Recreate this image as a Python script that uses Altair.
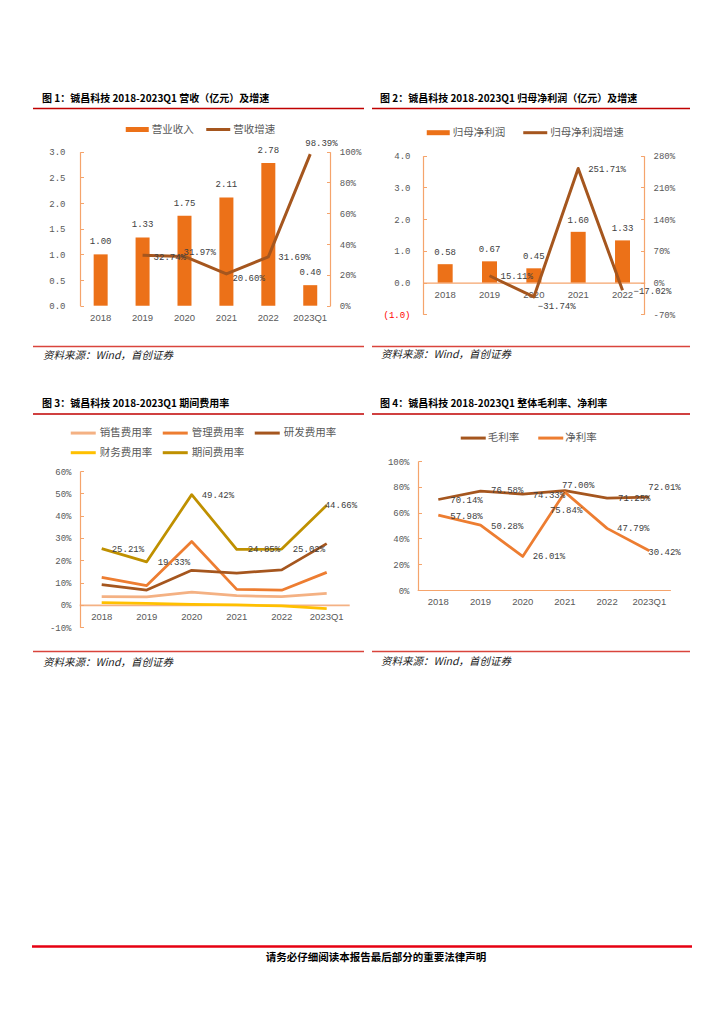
import altair as alt
import pandas as pd

# ---------------- data ----------------
years6 = ["2018", "2019", "2020", "2021", "2022", "2023Q1"]
years5 = ["2018", "2019", "2020", "2021", "2022"]

revenue = [1.00, 1.33, 1.75, 2.11, 2.78, 0.40]
revenue_growth = [None, 32.74, 31.97, 20.60, 31.69, 98.39]
profit = [0.58, 0.67, 0.45, 1.60, 1.33]
profit_growth = [None, 15.11, -31.74, 251.71, -17.02]

expense_names = ["销售费用率", "管理费用率", "研发费用率", "财务费用率", "期间费用率"]
sales_rate = [3.7, 3.6, 5.8, 4.2, 3.7, 5.2]
admin_rate = [12.4, 8.7, 28.4, 7.0, 6.6, 14.6]
rd_rate = [9.1, 6.7, 15.5, 14.3, 15.7, 27.5]
fin_rate = [1.0, 0.7, 0.3, 0.0, -0.4, -1.6]
period_rate = [25.21, 19.33, 49.42, 24.85, 25.02, 44.66]

margin_names = ["毛利率", "净利率"]
gross_margin = [70.14, 76.58, 74.33, 77.00, 71.25, 72.01]
net_margin = [57.98, 50.28, 26.01, 75.84, 47.79, 30.42]

legend1 = ["营业收入", "营收增速"]
legend2 = ["归母净利润", "归母净利润增速"]

titles = [
    "图 1：铖昌科技 2018-2023Q1 营收（亿元）及增速",
    "图 2：铖昌科技 2018-2023Q1 归母净利润（亿元）及增速",
    "图 3：铖昌科技 2018-2023Q1 期间费用率",
    "图 4：铖昌科技 2018-2023Q1 整体毛利率、净利率",
]
source_text = "资料来源：Wind，首创证券"
footer_text = "请务必仔细阅读本报告最后部分的重要法律声明"

y1_ticks = [0, 0.5, 1.0, 1.5, 2.0, 2.5, 3.0]
y1r_ticks = [0, 20, 40, 60, 80, 100]
y2_ticks = [-1, 0, 1, 2, 3, 4]
y2r_ticks = [-70, 0, 70, 140, 210, 280]
y3_ticks = [-10, 0, 10, 20, 30, 40, 50, 60]
y4_ticks = [0, 20, 40, 60, 80, 100]

df1 = pd.DataFrame({"year": years6, "rev": revenue, "g": revenue_growth})
df2 = pd.DataFrame({"year": years5, "p": profit, "g": profit_growth})
exp_series = [sales_rate, admin_rate, rd_rate, fin_rate, period_rate]
df3 = pd.DataFrame(
    [{"year": y, "name": n, "v": s[i]} for n, s in zip(expense_names, exp_series) for i, y in enumerate(years6)]
)
mar_series = [gross_margin, net_margin]
df4 = pd.DataFrame(
    [{"year": y, "name": n, "v": s[i]} for n, s in zip(margin_names, mar_series) for i, y in enumerate(years6)]
)

# ---------------- style ----------------
W, H = 708, 1008
CJK = "Noto Sans CJK SC"
MONO = "Liberation Mono"
SANS = "Liberation Sans"
GRAY = "#595959"
LABEL = "#404040"
AXIS_OR = "#F5A46C"
ORANGE = "#EC7118"
BROWN = "#A5561E"
exp_colors = ["#F4B183", "#ED7D31", "#A5561E", "#FFC000", "#BF9000"]
mar_colors = ["#A5561E", "#ED7D31"]
RED_DARK = "#C00000"
RED_SRC = "#D9443C"
RED_FOOT = "#E60012"


def V(p):
    return p - 8


one = pd.DataFrame({"k": [0]})


def band(domain, p0, p1):
    return alt.Scale(type="band", domain=domain, range=[V(p0), V(p1)], paddingInner=0, paddingOuter=0)


def lin(d0, d1, pb, pt, zero=False):
    return alt.Scale(type="linear", domain=[d0, d1], range=[V(pb), V(pt)], nice=False, zero=zero)


def x_axis(y_page, domain=True, dcolor=AXIS_OR, dwidth=1.2):
    return alt.Axis(orient="bottom", offset=V(y_page) - H, title=None, domain=domain,
                    domainColor=dcolor, domainWidth=dwidth, ticks=False, tickSize=0,
                    labelPadding=6.5, labelFont=SANS, labelFontSize=9.5, labelColor=GRAY,
                    labelAngle=0, grid=False, labelOverlap=False)


def y_axis(side, x_page, values, pad, expr=None, fmt=None, color=GRAY):
    off = -V(x_page) if side == "left" else V(x_page) - W
    kw = dict(orient=side, offset=off, values=values, title=None, domain=True,
              domainColor=AXIS_OR, domainWidth=1.2, ticks=False, tickSize=0,
              labelPadding=pad, labelFont=MONO, labelFontSize=9, labelColor=color,
              grid=False, labelOverlap=False)
    if expr:
        kw["labelExpr"] = expr
    if fmt:
        kw["format"] = fmt
    return alt.Axis(**kw)


def tick_axis(main_side, x_page, values):
    if main_side == "left":
        orient, off = "right", V(x_page) - W
    else:
        orient, off = "left", -V(x_page)
    return alt.Axis(orient=orient, offset=off, values=values, title=None, domain=False,
                    labels=False, ticks=True, tickSize=3.5, tickColor=AXIS_OR, tickWidth=1,
                    grid=False)


def legend(x, yc, path, stroke_w, label_offset, columns=None, colpad=10, rowpad=2):
    kw = dict(orient="none", legendX=V(x), legendY=V(yc) - 5.25, direction="horizontal",
              title=None, symbolType=path, symbolSize=16, symbolStrokeWidth=stroke_w,
              labelFont=CJK, labelFontSize=10.5, labelColor=GRAY, labelOffset=label_offset,
              padding=0, columnPadding=colpad, rowPadding=rowpad, offset=0)
    if columns:
        kw["columns"] = columns
    return alt.Legend(**kw)


BAR_PATH = "M-5.75,-1.25H5.75V1.25H-5.75Z"
LINE_PATH = "M-6,0H6"
LINE_PATH25 = "M-6.25,0H6.25"


def pct_labels(df, yf, xs, ys, place, yaxis=None):
    groups = {}
    for cat, val in zip(df["year"], df[yf]):
        if pd.isna(val):
            continue
        groups.setdefault(place.get(cat, (10, 0)), []).append(cat)
    out = []
    first = True
    for (dx, dy), cats in groups.items():
        ch = (
            alt.Chart(df)
            .transform_filter(alt.FieldOneOfPredicate(field="year", oneOf=cats))
            .transform_calculate(lab=f"format(datum.{yf}, '.2f') + '%'")
            .mark_text(align="left", baseline="middle", dx=dx, dy=dy, font=MONO,
                       fontSize=9, color=LABEL)
            .encode(
                x=alt.X("year:N", scale=xs, axis=None),
                y=alt.Y(f"{yf}:Q", scale=ys, axis=yaxis if first else None),
                text="lab:N",
            )
        )
        first = False
        out.append(ch)
    return out


layers = []

# ---------------- chart 1 ----------------
xs1 = band(years6, 79.7, 331.2)
ys1 = lin(0, 3, 305.7, 151.7, zero=True)
ys1r = lin(0, 100, 305.7, 151.7)
layers.append(
    alt.Chart(df1).transform_calculate(s=f"'{legend1[0]}'").mark_bar(size=14).encode(
        x=alt.X("year:N", scale=xs1, axis=x_axis(305.7, domain=False)),
        y=alt.Y("rev:Q", scale=ys1, axis=y_axis("left", 80, y1_ticks, 15, fmt=".1f")),
        color=alt.Color("s:N", scale=alt.Scale(domain=[legend1[0]], range=[ORANGE]),
                        legend=legend(132, 129.5, BAR_PATH, 0, 9.25)),
    )
)
layers.append(
    alt.Chart(df1).mark_text(align="center", baseline="middle", dy=-13, font=MONO,
                             fontSize=9, color=LABEL).encode(
        x=alt.X("year:N", scale=xs1, axis=None),
        y=alt.Y("rev:Q", scale=ys1, axis=tick_axis("left", 80, y1_ticks)),
        text=alt.Text("rev:Q", format=".2f"),
    )
)
layers.append(
    alt.Chart(df1).transform_filter("isValid(datum.g)").transform_calculate(s=f"'{legend1[1]}'")
    .mark_line(strokeWidth=3, strokeJoin="round").encode(
        x=alt.X("year:N", scale=xs1, axis=None),
        y=alt.Y("g:Q", scale=ys1r, axis=y_axis("right", 330, y1r_ticks, 9.3, expr="datum.value + '%'")),
        color=alt.Color("s:N", scale=alt.Scale(domain=[legend1[1]], range=[BROWN]),
                        legend=legend(213, 129.5, LINE_PATH, 3, 9.75)),
    )
)
layers += pct_labels(df1, "g", xs1, ys1r,
                     {"2019": (11, 1.5), "2020": (-1, -4), "2021": (6, 4), "2022": (10, 0), "2023Q1": (-5, -11)},
                     yaxis=tick_axis("right", 330, y1r_ticks))

# ---------------- chart 2 ----------------
xs2 = band(years5, 423.0, 644.7)
ys2 = lin(-1, 4, 314.3, 155.7, zero=True)
ys2r = lin(-70, 280, 314.3, 155.7)
zero2 = 314.3 + (0 - (-1)) / 5 * (155.7 - 314.3)
layers.append(
    alt.Chart(df2).transform_calculate(s=f"'{legend2[0]}'").mark_bar(size=15).encode(
        x=alt.X("year:N", scale=xs2, axis=x_axis(zero2)),
        y=alt.Y("p:Q", scale=ys2, axis=y_axis(
            "left", 423, y2_ticks, 13,
            expr="datum.value < 0 ? '(' + format(-datum.value, '.1f') + ')' : format(datum.value, '.1f')",
            color={"condition": {"test": "datum.value < 0", "value": "#FF0000"}, "value": GRAY})),
        color=alt.Color("s:N", scale=alt.Scale(domain=[legend2[0]], range=[ORANGE]),
                        legend=legend(433, 132.7, BAR_PATH, 0, 9.25)),
    )
)
layers.append(
    alt.Chart(df2).mark_text(align="center", baseline="middle", dy=-12, font=MONO,
                             fontSize=9, color=LABEL).encode(
        x=alt.X("year:N", scale=xs2, axis=None),
        y=alt.Y("p:Q", scale=ys2, axis=tick_axis("left", 423, y2_ticks)),
        text=alt.Text("p:Q", format=".2f"),
    )
)
layers.append(
    alt.Chart(df2).transform_filter("isValid(datum.g)").transform_calculate(s=f"'{legend2[1]}'")
    .mark_line(strokeWidth=3, strokeJoin="round").encode(
        x=alt.X("year:N", scale=xs2, axis=None),
        y=alt.Y("g:Q", scale=ys2r, axis=y_axis("right", 644, y2r_ticks, 9, expr="datum.value + '%'")),
        color=alt.Color("s:N", scale=alt.Scale(domain=[legend2[1]], range=[BROWN]),
                        legend=legend(530, 132.7, LINE_PATH, 3, 9.75)),
    )
)
layers += pct_labels(df2, "g", xs2, ys2r,
                     {"2019": (11, 0), "2020": (4, 9), "2021": (10, 0), "2022": (11, 1)},
                     yaxis=tick_axis("right", 644, y2r_ticks))

# ---------------- chart 3 ----------------
xs3 = band(years6, 79.2, 349.2)
ys3 = lin(-10, 60, 627.3, 471)
zero3 = 627.3 + 10 / 70 * (471 - 627.3)
layers.append(
    alt.Chart(df3).mark_line(strokeWidth=2.75, strokeJoin="round").encode(
        x=alt.X("year:N", scale=xs3, axis=x_axis(zero3, dcolor="#F4B183", dwidth=1.8)),
        y=alt.Y("v:Q", scale=ys3, axis=y_axis("left", 80, y3_ticks, 9, expr="datum.value + '%'")),
        color=alt.Color("name:N", scale=alt.Scale(domain=expense_names, range=exp_colors),
                        sort=expense_names,
                        legend=legend(78, 432.7, LINE_PATH25, 3, 11.25, columns=3, colpad=3, rowpad=7)),
    )
)
layers += pct_labels(df3[df3["name"] == expense_names[4]].reset_index(drop=True), "v", xs3, ys3,
                     {"2018": (10, 0), "2019": (11, 0), "2020": (10, 0), "2021": (11, 0),
                      "2022": (11, 0), "2023Q1": (-2, 0)},
                     yaxis=tick_axis("left", 80, y3_ticks))

# ---------------- chart 4 ----------------
xs4 = band(years6, 417.2, 670.4)
ys4 = lin(0, 100, 590, 461)
layers.append(
    alt.Chart(df4).mark_line(strokeWidth=2.75, strokeJoin="round").encode(
        x=alt.X("year:N", scale=xs4, axis=x_axis(590)),
        y=alt.Y("v:Q", scale=ys4, axis=y_axis("left", 418, y4_ticks, 9, expr="datum.value + '%'")),
        color=alt.Color("name:N", scale=alt.Scale(domain=margin_names, range=mar_colors),
                        sort=margin_names,
                        legend=legend(468, 437.7, LINE_PATH25, 3, 9.25, colpad=11.5)),
    )
)
layers += pct_labels(df4[df4["name"] == margin_names[0]].reset_index(drop=True), "v", xs4, ys4,
                     {"2018": (12, 0), "2019": (10.5, -1), "2020": (10, 1), "2021": (-3, -6),
                      "2022": (11, 0), "2023Q1": (-1, -10)},
                     yaxis=tick_axis("left", 418, y4_ticks))
layers += pct_labels(df4[df4["name"] == margin_names[1]].reset_index(drop=True), "v", xs4, ys4,
                     {"2018": (12, 1), "2019": (10.5, 1), "2020": (10, 0), "2021": (-15, 18),
                      "2022": (10, 0), "2023Q1": (-1, 1)})


# ---------------- page decorations ----------------
def deco_text(txt, x, y, size, weight="normal", style="normal", align="left", color="#000000"):
    return alt.Chart(one).mark_text(text=txt, align=align, baseline="middle", fontSize=size,
                                    fontWeight=weight, fontStyle=style, font=CJK, color=color).encode(
        x=alt.value(V(x)), y=alt.value(V(y)))


def deco_rule(x1, x2, y, color, width):
    return alt.Chart(one).mark_rule(color=color, strokeWidth=width).encode(
        x=alt.value(V(x1)), x2=alt.value(V(x2)), y=alt.value(V(y)))


# titles
layers.append(deco_text(titles[0], 42, 98.5, 10, weight="bold"))
layers.append(deco_text(titles[1], 380, 98.5, 10, weight="bold"))
layers.append(deco_text(titles[2], 42, 403.5, 10, weight="bold"))
layers.append(deco_text(titles[3], 380, 403.5, 10, weight="bold"))
# title underlines
layers.append(deco_rule(33, 364, 108.5, RED_DARK, 1.3))
layers.append(deco_rule(372, 690, 108.5, RED_DARK, 1.3))
layers.append(deco_rule(33, 364, 414, RED_DARK, 1.3))
layers.append(deco_rule(372, 690, 414, RED_DARK, 1.3))
# source lines and texts
layers.append(deco_rule(33, 364, 346.5, RED_SRC, 1.5))
layers.append(deco_rule(372, 690, 346.5, RED_SRC, 1.5))
layers.append(deco_rule(33, 364, 651.5, RED_SRC, 1.5))
layers.append(deco_rule(372, 690, 651.5, RED_SRC, 1.5))
layers.append(deco_text(source_text, 43, 356, 10.5, style="italic", color="#222222"))
layers.append(deco_text(source_text, 381, 355, 10.5, style="italic", color="#222222"))
layers.append(deco_text(source_text, 43, 662.5, 10.5, style="italic", color="#222222"))
layers.append(deco_text(source_text, 381, 662, 10.5, style="italic", color="#222222"))
# footer
layers.append(deco_rule(32, 692, 946.5, RED_FOOT, 2.5))
layers.append(deco_text(footer_text, 376, 957.5, 10.5, weight="bold", align="center"))

chart = (
    alt.layer(*layers)
    .resolve_scale(x="independent", y="independent", color="independent")
    .properties(width=W, height=H, padding=0, autosize=alt.AutoSizeParams(type="none"))
    .configure_view(stroke=None)
)

chart.save("out.html", embed_options={"renderer": "svg", "actions": False})
